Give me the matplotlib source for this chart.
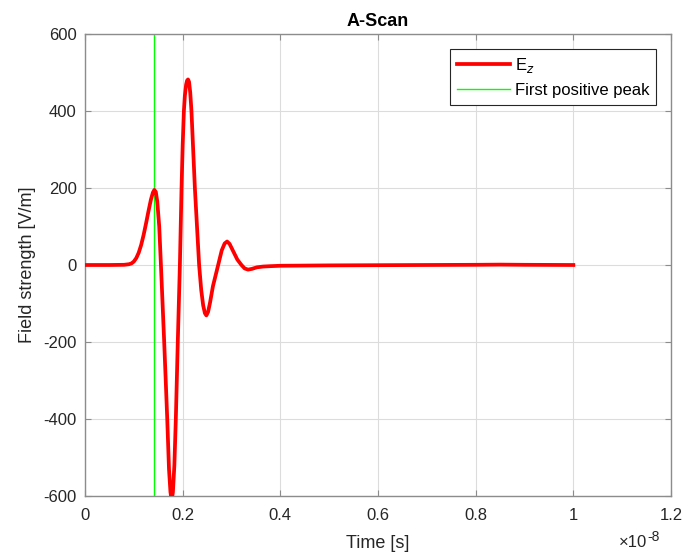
import matplotlib
matplotlib.use("Agg")
import matplotlib.pyplot as plt
from matplotlib.ticker import FuncFormatter

plt.rcParams['font.family'] = ['Liberation Sans', 'DejaVu Sans']

# time in units of 1e-8 s, field in V/m
t_scaled = [0, 0.05, 0.08, 0.09, 0.095, 0.10, 0.105, 0.11, 0.115, 0.12, 0.125, 0.13,
            0.135, 0.139, 0.142, 0.145, 0.148, 0.152, 0.1555, 0.159, 0.162, 0.165,
            0.1684, 0.172, 0.175, 0.1775, 0.180, 0.183, 0.186, 0.190, 0.1943, 0.1977,
            0.200, 0.2025, 0.2045, 0.207, 0.209, 0.211, 0.213, 0.2155, 0.218, 0.225,
            0.2337, 0.238, 0.242, 0.2455, 0.2485, 0.252, 0.256, 0.262, 0.2727, 0.28,
            0.286, 0.291, 0.296, 0.303, 0.312, 0.3204, 0.327, 0.334, 0.342, 0.352,
            0.365, 0.38, 0.4, 0.45, 0.5, 0.6, 0.7, 0.8, 0.85, 0.9, 1.0]
ez = [0, 0, 0.5, 2, 4, 9, 18, 32, 52, 78, 108, 140,
      170, 188, 195, 190, 165, 100, 0, -105, -195, -290,
      -400, -530, -590, -612, -590, -520, -400, -200, 0, 200,
      310, 400, 440, 468, 479, 482, 476, 448, 400, 200,
      0, -65, -105, -125, -131, -122, -98, -55, 0, 38,
      56, 61, 55, 37, 14, 0, -9, -12, -10, -6,
      -4, -3, -2, -1.5, -1, -0.5, 0, 0.5, 1, 0.5, 0]
peak_time_scaled = 0.1418

x_ticks = [0, 0.2, 0.4, 0.6, 0.8, 1.0, 1.2]
y_ticks = [-600, -400, -200, 0, 200, 400, 600]

scale = 1e-8
t = [v * scale for v in t_scaled]

fig = plt.figure(figsize=(6.86, 5.53), dpi=100)
ax = fig.add_axes([85/686, 57/553, 586/686, 462/553])

ax.plot(t, ez, color='#FF0000', lw=2.7, label=r'E$_z$', zorder=3,
        solid_joinstyle='round')
ax.axvline(peak_time_scaled * scale, color='#00FF00', lw=1.0,
           label='First positive peak', zorder=2)

ax.set_xlim(0, 1.2 * scale)
ax.set_ylim(-600, 600)
ax.set_xticks([v * scale for v in x_ticks])
ax.set_yticks(y_ticks)
ax.xaxis.set_major_formatter(FuncFormatter(lambda v, p: f"{v/scale:g}"))
ax.set_yticklabels([str(v) for v in y_ticks])

tick_col = '#262626'
ax.grid(True, color='#dcdcdc', lw=0.8)
ax.set_axisbelow(True)
for s in ax.spines.values():
    s.set_color('#8c8c8c')
    s.set_linewidth(1.0)
ax.tick_params(direction='in', length=4, width=0.8, colors='#8c8c8c',
               labelcolor=tick_col, labelsize=12, top=True, right=True)
ax.tick_params(axis='y', pad=6)
ax.tick_params(axis='x', pad=9)

ax.set_xlabel('Time [s]', fontsize=13, color=tick_col, labelpad=8)
ax.set_ylabel('Field strength [V/m]', fontsize=13, color=tick_col, labelpad=5)
ax.set_title('A-Scan', fontsize=13, fontweight='bold', color='black', pad=6)

fig.text(647/686, 3/553, '×10', ha='right', va='bottom',
         fontsize=12, color=tick_col)
fig.text(647/686, 9/553, '-8', ha='left', va='bottom',
         fontsize=10, color=tick_col)

leg = ax.legend(loc='upper right', fontsize=12, frameon=True, fancybox=False,
                edgecolor='#262626', framealpha=1, borderaxespad=0.9,
                handlelength=3.2, handletextpad=0.3, labelspacing=0.5,
                borderpad=0.4)
leg.get_frame().set_linewidth(0.8)

fig.savefig('out.png', dpi=100)
